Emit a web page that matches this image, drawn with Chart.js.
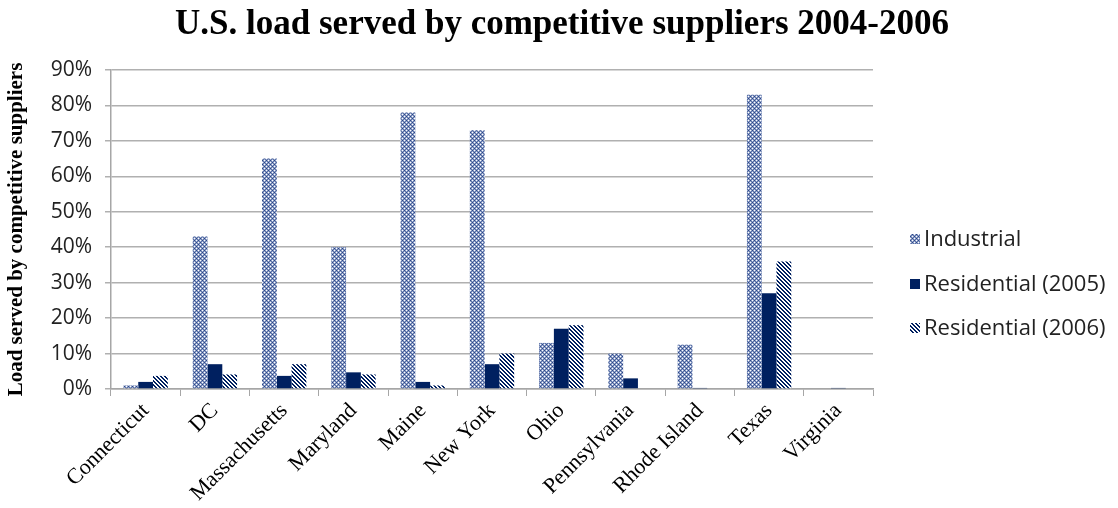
<!DOCTYPE html>
<html>
<head>
<meta charset="utf-8">
<script src="https://cdn.jsdelivr.net/npm/chart.js@4.4.1/dist/chart.umd.min.js"></script>
<style>
  html, body { margin: 0; padding: 0; background: #fff; }
  #wrap { width: 1118px; height: 508px; }
</style>
</head>
<body>
<div id="wrap"><canvas id="loadChart" width="1118" height="508"></canvas></div>
<script>
const states = ['Connecticut', 'DC', 'Massachusetts', 'Maryland', 'Maine', 'New York',
                'Ohio', 'Pennsylvania', 'Rhode Island', 'Texas', 'Virginia'];
const industrial = [1, 43, 65, 40, 78, 73, 13, 10, 12.5, 83, 0];
const residential2005 = [2, 7, 3.7, 4.7, 2, 7, 17, 3, 0.3, 27, 0.3];
const residential2006 = [3.7, 4.1, 7, 4.1, 1, 10, 18, 0, 0, 36, 0];
const seriesNames = ['Industrial', 'Residential (2005)', 'Residential (2006)'];
const yTicks = [0, 10, 20, 30, 40, 50, 60, 70, 80, 90];
const chartTitle = 'U.S. load served by competitive suppliers 2004-2006';

const NAVY = '#002060';

// small tiles for the hatched fills
function makePattern(kind) {
    const c = document.createElement('canvas');
    c.width = 4; c.height = 4;
    const g = c.getContext('2d');
    for (let y = 0; y < 4; y++) {
        for (let x = 0; x < 4; x++) {
            if (kind === 'checker') {
                let col = '#93a3cb';
                if (x % 2 === 0 && y % 2 === 0) col = ((x + y) % 4 === 0) ? '#ffffff' : '#2a4684';
                else if (x % 2 === 1 && y % 2 === 1) col = '#5b72a6';
                g.fillStyle = col;
            } else {
                g.fillStyle = (((x - y) % 4 + 4) % 4 < 2) ? NAVY : '#ffffff';
            }
            g.fillRect(x, y, 1, 1);
        }
    }
    return g.createPattern(c, 'repeat');
}

const fills = [makePattern('checker'), NAVY, makePattern('stripes')];

// title and legend drawn by hand so they sit where the original ones do
const sideLegend = {
    id: 'sideLegend',
    afterDraw(chart) {
        const ctx = chart.ctx;
        ctx.save();
        ctx.fillStyle = '#000';
        ctx.font = 'bold 35px "Liberation Serif", "Times New Roman", serif';
        ctx.textAlign = 'center';
        ctx.textBaseline = 'alphabetic';
        ctx.fillText(chartTitle, 562, 34);

        const rows = [239, 284, 328];
        ctx.textAlign = 'left';
        ctx.font = '22px "Open Sans"';
        ctx.textBaseline = 'middle';
        seriesNames.forEach((name, i) => {
            ctx.fillStyle = fills[i];
            ctx.fillRect(910, rows[i] - 5, 10, 10);
            ctx.fillStyle = '#222';
            ctx.fillText(name, 924, rows[i] + 1);
        });
        ctx.restore();
    }
};

const ctx = document.getElementById('loadChart').getContext('2d');
new Chart(ctx, {
    type: 'bar',
    data: {
        labels: states,
        datasets: [
            { label: seriesNames[0], data: industrial, backgroundColor: fills[0] },
            { label: seriesNames[1], data: residential2005, backgroundColor: fills[1] },
            { label: seriesNames[2], data: residential2006, backgroundColor: fills[2] }
        ]
    },
    options: {
        responsive: false,
        animation: false,
        devicePixelRatio: 1,
        layout: { padding: { left: 0, right: 245, top: 70, bottom: 0 } },
        datasets: { bar: { categoryPercentage: 0.64, barPercentage: 1.0 } },
        plugins: {
            legend: { display: false },
            tooltip: { enabled: false },
            title: { display: false }
        },
        scales: {
            x: {
                offset: true,
                grid: { display: true, drawOnChartArea: false, drawTicks: true, tickLength: 7, color: '#a6a6a6', offset: true },
                border: { display: true, color: '#a6a6a6', width: 1.5 },
                ticks: {
                    color: '#000',
                    minRotation: 45, maxRotation: 45,
                    padding: 2,
                    font: { family: '"Liberation Serif", "Times New Roman", serif', size: 22 }
                },
                afterFit(scale) { scale.height = 508 - 389; }
            },
            y: {
                min: 0, max: 90,
                afterBuildTicks(scale) { scale.ticks = yTicks.map(v => ({ value: v })); },
                grid: { color: '#b0b0b0', lineWidth: 1.5, tickLength: 6 },
                border: { display: true, color: '#a6a6a6', width: 1.5 },
                ticks: {
                    color: '#222',
                    padding: 13,
                    font: { family: '"Open Sans", sans-serif', size: 21 },
                    callback: v => v + '%'
                },
                title: {
                    display: true,
                    text: 'Load served by competitive suppliers',
                    color: '#000',
                    font: { family: '"Liberation Serif", "Times New Roman", serif', size: 21, weight: 'bold' },
                    padding: { top: 4, bottom: 0 }
                },
                afterFit(scale) { scale.width = 111; }
            }
        }
    },
    plugins: [sideLegend]
});
</script>
</body>
</html>
